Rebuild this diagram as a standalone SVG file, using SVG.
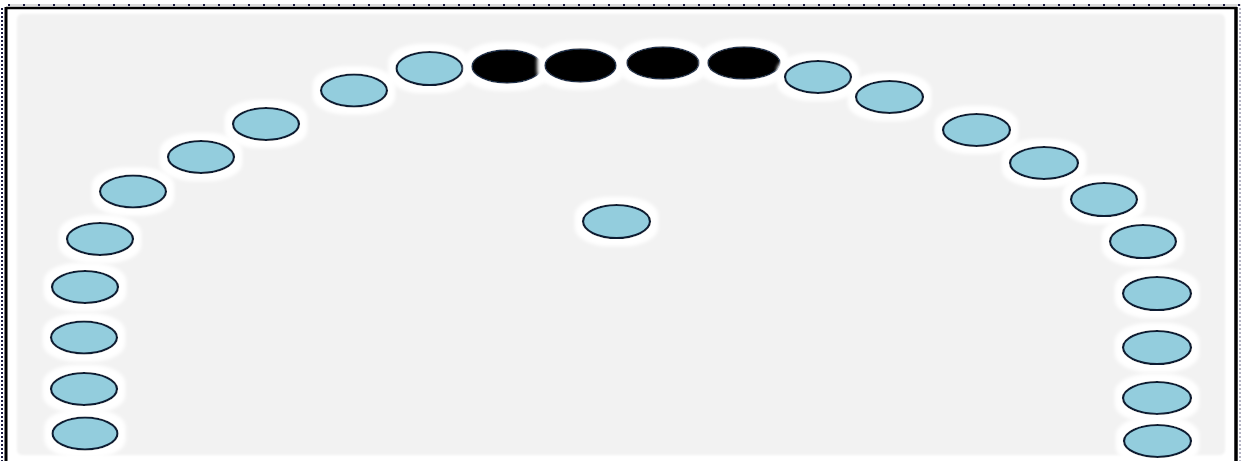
<svg xmlns="http://www.w3.org/2000/svg" width="1241" height="461" viewBox="0 0 1241 461">
<style>
.n{fill:#93cddd;stroke:#0c1d33;stroke-width:2.2}
.k{fill:#000;stroke:#1b2e4a;stroke-width:1.5}
.g{filter:url(#glow)}
</style>
<defs>
<filter id="glow" x="-40%" y="-80%" width="180%" height="260%">
<feMorphology in="SourceAlpha" operator="dilate" radius="6" result="d"/>
<feGaussianBlur in="d" stdDeviation="2.2" result="b"/>
<feFlood flood-color="#ffffff"/>
<feComposite in2="b" operator="in" result="w"/>
<feMerge><feMergeNode in="w"/><feMergeNode in="w"/><feMergeNode in="SourceGraphic"/></feMerge>
</filter>
<filter id="soft" x="-5%" y="-5%" width="110%" height="110%">
<feGaussianBlur stdDeviation="1.2"/>
</filter>
</defs>
<rect x="0" y="0" width="1241" height="461" fill="#ffffff"/>
<g id="frame">
<line x1="8" y1="5" x2="1241" y2="5" stroke="#d0d0d0" stroke-width="1.5"/>
<line x1="8" y1="5" x2="1241" y2="5" stroke="#1a1a40" stroke-width="2" stroke-dasharray="2 13"/>
<line x1="2" y1="8" x2="2" y2="461" stroke="#1a1a40" stroke-width="2" stroke-dasharray="2 2"/>
<line x1="1240" y1="8" x2="1240" y2="461" stroke="#9a9ab0" stroke-width="1.5" stroke-dasharray="2 2"/>
<line x1="6" y1="8" x2="1237" y2="8" stroke="#000" stroke-width="2.5"/>
<line x1="6" y1="7" x2="6" y2="461" stroke="#000" stroke-width="3"/>
<line x1="1236" y1="7" x2="1236" y2="461" stroke="#000" stroke-width="3.5"/>
<rect x="17" y="14" width="1208" height="441" rx="5" fill="#f2f2f2" filter="url(#soft)"/>
</g>
<g id="nodes">
<g id="n1" class="g"><ellipse class="n" cx="85" cy="433.5" rx="32.5" ry="16"/></g>
<g id="n2" class="g"><ellipse class="n" cx="84" cy="389" rx="33" ry="16"/></g>
<g id="n3" class="g"><ellipse class="n" cx="84" cy="337.5" rx="33" ry="16"/></g>
<g id="n4" class="g"><ellipse class="n" cx="85" cy="287" rx="33" ry="16"/></g>
<g id="n5" class="g"><ellipse class="n" cx="100" cy="239" rx="33" ry="16"/></g>
<g id="n6" class="g"><ellipse class="n" cx="133" cy="191.5" rx="33" ry="16"/></g>
<g id="n7" class="g"><ellipse class="n" cx="201" cy="157" rx="33" ry="16"/></g>
<g id="n8" class="g"><ellipse class="n" cx="266" cy="124" rx="33" ry="16"/></g>
<g id="n9" class="g"><ellipse class="n" cx="354" cy="90.5" rx="33" ry="16"/></g>
<g id="n10" class="g"><ellipse class="n" cx="429.5" cy="68.5" rx="33" ry="16.5"/></g>
<g id="b1" class="g"><ellipse class="k" cx="507" cy="66.5" rx="35" ry="16.5"/></g>
<g id="b2" class="g"><ellipse class="k" cx="580.5" cy="65.5" rx="35.5" ry="16.5"/></g>
<g id="b3" class="g"><ellipse class="k" cx="663" cy="63" rx="36" ry="16"/></g>
<g id="b4" class="g"><ellipse class="k" cx="744" cy="63" rx="36" ry="16"/></g>
<g id="n11" class="g"><ellipse class="n" cx="818" cy="77" rx="33" ry="16"/></g>
<g id="n12" class="g"><ellipse class="n" cx="889.5" cy="97" rx="33.5" ry="16"/></g>
<g id="n13" class="g"><ellipse class="n" cx="976.5" cy="130" rx="33.5" ry="16"/></g>
<g id="n14" class="g"><ellipse class="n" cx="1044" cy="163" rx="34" ry="16"/></g>
<g id="n15" class="g"><ellipse class="n" cx="1104" cy="199.5" rx="33" ry="16.5"/></g>
<g id="n16" class="g"><ellipse class="n" cx="1143" cy="241.5" rx="33" ry="16.5"/></g>
<g id="n17" class="g"><ellipse class="n" cx="1157" cy="293.5" rx="34" ry="16.5"/></g>
<g id="n18" class="g"><ellipse class="n" cx="1157" cy="347.5" rx="34" ry="16.5"/></g>
<g id="n19" class="g"><ellipse class="n" cx="1157" cy="398" rx="34" ry="16"/></g>
<g id="n20" class="g"><ellipse class="n" cx="1157.5" cy="441" rx="33.5" ry="16"/></g>
<g id="c" class="g"><ellipse class="n" cx="616.5" cy="221.5" rx="33.5" ry="16.5"/></g>
</g>
<g id="connectors"/>
</svg>
